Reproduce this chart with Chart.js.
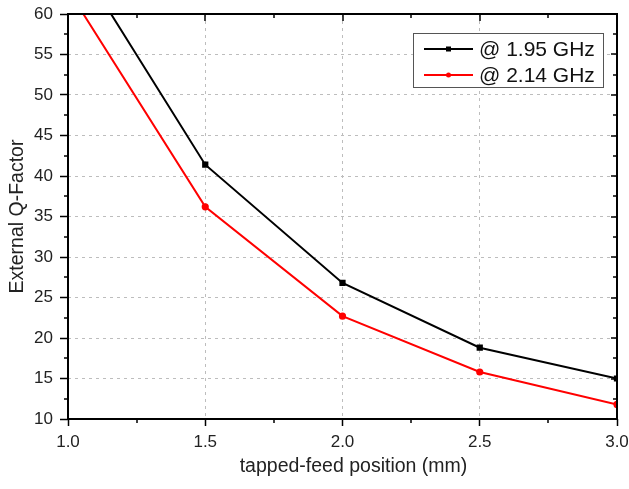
<!DOCTYPE html>
<html><head><meta charset="utf-8">
<script src="https://cdn.jsdelivr.net/npm/chart.js@4"></script>
<style>html,body{margin:0;padding:0;background:#fff}</style>
</head><body>
<canvas id="c" width="629" height="489" style="width:629px;height:489px;display:block"></canvas>
<script>
const positions = [1.0, 1.5, 2.0, 2.5, 3.0];
const q195 = [68.5, 41.4, 26.8, 18.8, 15.0];
const q214 = [63.0, 36.2, 22.7, 15.8, 11.8];
const seriesLabels = ['@ 1.95 GHz', '@ 2.14 GHz'];
const seriesColors = ['#000000', '#ff0000'];
const xTitle = 'tapped-feed position (mm)';
const yTitle = 'External Q-Factor';
const xMajorTicks = [1.0, 1.5, 2.0, 2.5, 3.0];
const xMinorTicks = [1.25, 1.75, 2.25, 2.75];
const yMajorTicks = [10, 15, 20, 25, 30, 35, 40, 45, 50, 55, 60];
const yMinorTicks = [12.5, 17.5, 22.5, 27.5, 32.5, 37.5, 42.5, 47.5, 52.5, 57.5];

Chart.defaults.font.family = '"Liberation Sans", Arial, sans-serif';

const toXY = (ys) => positions.map((x, i) => ({x, y: ys[i]}));

const framePlugin = {
  id: 'frame',
  afterDraw(chart) {
    const {ctx, chartArea: a, scales: {x, y}} = chart;
    ctx.save();
    ctx.strokeStyle = '#000';
    ctx.lineWidth = 1.5;
    ctx.beginPath();
    xMinorTicks.forEach(v => {
      const px = Math.round(x.getPixelForValue(v));
      ctx.moveTo(px, a.bottom); ctx.lineTo(px, a.bottom + 4);
      ctx.moveTo(px, a.top); ctx.lineTo(px, a.top + 4);
    });
    xMajorTicks.forEach(v => {
      const px = Math.round(x.getPixelForValue(v));
      ctx.moveTo(px, a.top); ctx.lineTo(px, a.top + 7);
    });
    yMinorTicks.forEach(v => {
      const py = Math.round(y.getPixelForValue(v));
      ctx.moveTo(a.left - 4, py); ctx.lineTo(a.left, py);
      ctx.moveTo(a.right - 4, py); ctx.lineTo(a.right, py);
    });
    yMajorTicks.forEach(v => {
      const py = Math.round(y.getPixelForValue(v));
      ctx.moveTo(a.right - 6, py); ctx.lineTo(a.right, py);
    });
    ctx.stroke();
    ctx.lineWidth = 2;
    ctx.strokeRect(a.left, a.top, a.right - a.left, a.bottom - a.top);

    // x-axis title (slightly right of centre, as in the reference)
    ctx.fillStyle = '#222';
    ctx.font = '19.5px "Liberation Sans", Arial, sans-serif';
    ctx.textAlign = 'center';
    ctx.textBaseline = 'middle';
    ctx.fillText(xTitle, (a.left + a.right) / 2 + 11, 467);

    // legend
    const bx = 413, by = 33, bw = 190, bh = 54;
    ctx.fillStyle = '#fff';
    ctx.fillRect(bx, by, bw, bh);
    ctx.lineWidth = 1;
    ctx.strokeStyle = '#555';
    ctx.strokeRect(bx + 0.5, by + 0.5, bw, bh);
    chart.data.datasets.forEach((ds, i) => {
      const ry = 49 + i * 26;
      ctx.strokeStyle = ds.borderColor;
      ctx.lineWidth = 2;
      ctx.beginPath();
      ctx.moveTo(424, ry); ctx.lineTo(473, ry);
      ctx.stroke();
      ctx.fillStyle = ds.borderColor;
      if (i === 0) ctx.fillRect(446, ry - 2.5, 5, 5);
      else { ctx.beginPath(); ctx.arc(448.5, ry, 2.5, 0, Math.PI * 2); ctx.fill(); }
      ctx.fillStyle = '#111';
      ctx.font = '21px "Liberation Sans", Arial, sans-serif';
      ctx.textBaseline = 'middle';
      ctx.textAlign = 'left';
      ctx.fillText(ds.label, 479, ry + 1);
    });
    ctx.restore();
  }
};

new Chart(document.getElementById('c'), {
  type: 'line',
  data: {
    datasets: [
      {label: seriesLabels[0], data: toXY(q195), borderColor: seriesColors[0], backgroundColor: seriesColors[0],
       borderWidth: 2, pointStyle: 'rect', pointRadius: 3, pointHoverRadius: 3, tension: 0},
      {label: seriesLabels[1], data: toXY(q214), borderColor: seriesColors[1], backgroundColor: seriesColors[1],
       borderWidth: 2, pointStyle: 'circle', pointRadius: 2.6, pointHoverRadius: 2.6, tension: 0}
    ]
  },
  options: {
    responsive: false,
    animation: false,
    events: [],
    layout: {padding: {top: 14, right: 12, left: 0, bottom: 0}},
    plugins: {legend: {display: false}, tooltip: {enabled: false}},
    scales: {
      x: {
        type: 'linear', min: 1, max: 3,
        afterFit(s) { s.height = 70; s.paddingLeft = 0; s.paddingRight = 0; },
        afterBuildTicks(s) { s.ticks = xMajorTicks.map(v => ({value: v})); },
        ticks: {callback: v => v.toFixed(1), font: {size: 17}, color: '#222', padding: 6, maxRotation: 0},
        grid: {color: '#bdbdbd', lineWidth: 1, tickLength: 7, tickColor: '#000', tickWidth: 1.5},
        border: {display: false, dash: [3, 4]},
        title: {display: false}
      },
      y: {
        type: 'linear', min: 10, max: 60,
        afterFit(s) { s.width = 68; s.paddingTop = 0; s.paddingBottom = 0; },
        afterBuildTicks(s) { s.ticks = yMajorTicks.map(v => ({value: v})); },
        ticks: {font: {size: 17}, color: '#222', padding: 7},
        grid: {color: '#bdbdbd', lineWidth: 1, tickLength: 8, tickColor: '#000', tickWidth: 1.5},
        border: {display: false, dash: [3, 4]},
        title: {display: true, text: yTitle, font: {size: 19.5}, color: '#222', padding: {top: 6, bottom: 0}}
      }
    }
  },
  plugins: [framePlugin]
});
</script>
</body></html>
